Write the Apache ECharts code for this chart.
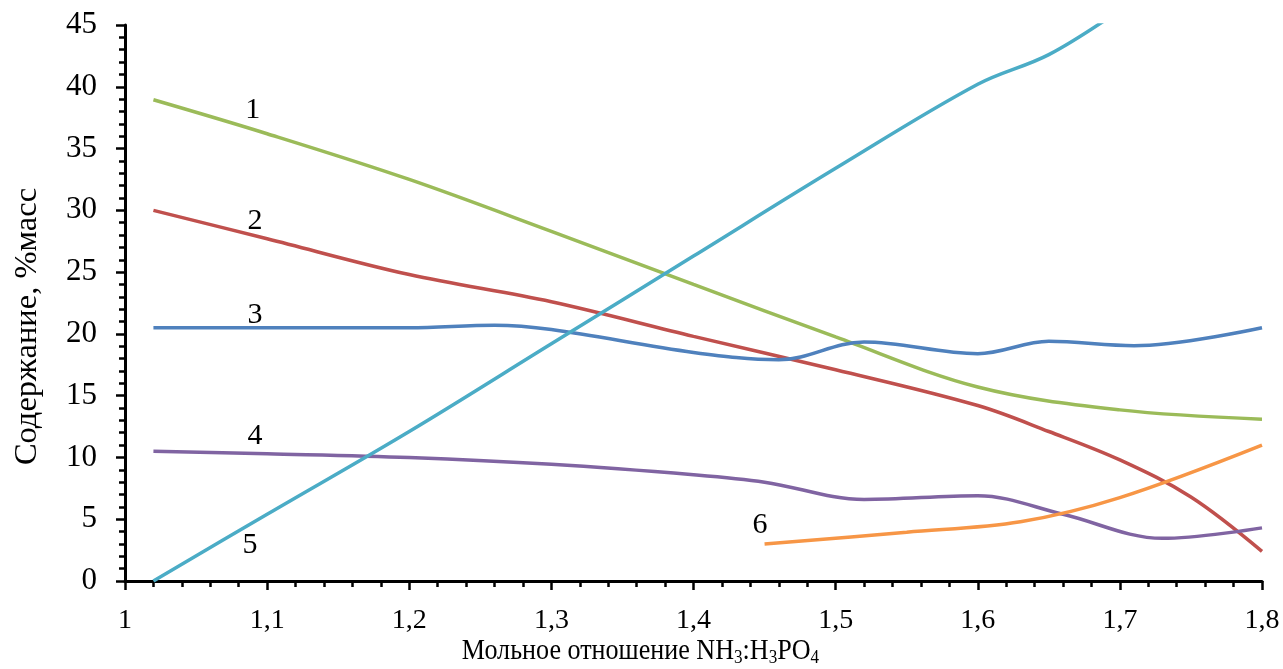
<!DOCTYPE html>
<html>
<head>
<meta charset="utf-8">
<script src="https://cdn.jsdelivr.net/npm/echarts@6/dist/echarts.min.js"></script>
<style>
  html, body { margin: 0; padding: 0; background: #ffffff; }
  #chart { width: 1283px; height: 669px; }
</style>
</head>
<body>
<div id="chart"></div>
<script>
// Molar ratio NH3:H3PO4 (x) vs content, % mass (y)
const ratio1 = [1.02, 1.1, 1.2, 1.3, 1.4, 1.5, 1.6, 1.7, 1.8];
const curve1 = [38.95, 36.2, 32.5, 28.3, 24.0, 19.75, 15.7, 13.85, 13.1];

const ratio2 = [1.02, 1.1, 1.2, 1.3, 1.4, 1.5, 1.6, 1.65, 1.7, 1.75, 1.8];
const curve2 = [30.0, 27.7, 24.8, 22.6, 19.8, 17.1, 14.2, 12.1, 9.8, 6.8, 2.4];

const ratio3 = [1.02, 1.1, 1.2, 1.26, 1.3, 1.4, 1.46, 1.52, 1.6, 1.65, 1.71, 1.8];
const curve3 = [20.5, 20.5, 20.5, 20.7, 20.35, 18.5, 17.9, 19.35, 18.4, 19.4, 19.05, 20.5];

const ratio4 = [1.02, 1.1, 1.2, 1.3, 1.4, 1.45, 1.52, 1.6, 1.66, 1.73, 1.8];
const curve4 = [10.5, 10.3, 10.0, 9.45, 8.6, 8.0, 6.6, 6.9, 5.4, 3.45, 4.3];

const ratio5 = [1.02, 1.1, 1.2, 1.3, 1.4, 1.5, 1.6, 1.65, 1.7];
const curve5 = [0, 5.4, 12.1, 19.2, 26.3, 33.4, 40.2, 42.6, 46.2];

const ratio6 = [1.45, 1.55, 1.63, 1.7, 1.8];
const curve6 = [3.0, 3.95, 4.8, 6.75, 11.0];

// Curve numbers and where they sit (x, y in data units)
const curveNames = ['1', '2', '3', '4', '5', '6'];
const namePosX = [1.0898, 1.0915, 1.0915, 1.0915, 1.088, 1.4468];
const namePosY = [38.1, 29.1, 21.5, 11.7, 2.9, 4.5];

const colors = ['#9BBB59', '#C0504D', '#4F81BD', '#8064A2', '#4BACC6', '#F79646'];

const xAxisMin = 1, xAxisMax = 1.8, xStep = 0.1;
const yAxisMin = 0, yAxisMax = 45, yStep = 5;

const xTitle = '{a|Мольное отношение NH}{s|3}{a|:H}{s|3}{a|PO}{s|4}';
const yTitle = 'Содержание, %масс';

const serif = 'Liberation Serif';

const ratios = [ratio1, ratio2, ratio3, ratio4, ratio5, ratio6];
const curves = [curve1, curve2, curve3, curve4, curve5, curve6];

function zip(xs, ys) { return xs.map((x, i) => [x, ys[i]]); }
function commaNum(v) { return String(Number(v.toFixed(2))).replace('.', ','); }

const series = curves.map((c, i) => ({
  type: 'line',
  data: zip(ratios[i], c),
  smooth: 0.35,
  showSymbol: false,
  symbol: 'none',
  clip: true,
  lineStyle: { color: colors[i], width: 3.5 },
  itemStyle: { color: colors[i] },
  z: 2 + i,
  markPoint: {
    symbol: 'circle',
    symbolSize: 0,
    silent: true,
    label: {
      show: true,
      position: 'inside',
      formatter: curveNames[i],
      color: '#000',
      fontSize: 30,
      fontFamily: serif
    },
    data: [{ coord: [namePosX[i], namePosY[i]] }]
  }
}));

const axisCommon = {
  type: 'value',
  axisLine: { show: true, onZero: false, lineStyle: { color: '#000', width: 3 } },
  axisTick: { show: true, inside: false, length: 9, lineStyle: { color: '#000', width: 2.5 } },
  minorTick: { show: true, splitNumber: 5, length: 6, lineStyle: { color: '#000', width: 2.5 } },
  splitLine: { show: false },
  minorSplitLine: { show: false }
};

const chart = echarts.init(document.getElementById('chart'), null, { renderer: 'canvas' });
chart.setOption({
  animation: false,
  backgroundColor: '#ffffff',
  grid: { left: 125, right: 21, top: 25, bottom: 88, containLabel: false, outerBoundsMode: 'none' },
  xAxis: Object.assign({}, axisCommon, {
    min: xAxisMin, max: xAxisMax, interval: xStep,
    axisLabel: { color: '#000', fontSize: 28, fontFamily: serif, margin: 26, formatter: commaNum }
  }),
  yAxis: Object.assign({}, axisCommon, {
    min: yAxisMin, max: yAxisMax, interval: yStep,
    axisLabel: { color: '#000', fontSize: 31, fontFamily: serif, margin: 28, formatter: commaNum }
  }),
  graphic: [
    {
      type: 'text',
      x: 640.5, y: 651,
      scaleX: 0.9,
      style: {
        text: xTitle,
        align: 'center',
        verticalAlign: 'middle',
        rich: {
          a: { fontSize: 29, fontFamily: serif, fill: '#000', lineHeight: 34 },
          s: { fontSize: 19, fontFamily: serif, fill: '#000', lineHeight: 14, verticalAlign: 'bottom' }
        }
      }
    },
    {
      type: 'text',
      x: 27, y: 326.5,
      rotation: Math.PI / 2,
      style: {
        text: yTitle,
        align: 'center',
        verticalAlign: 'middle',
        fontSize: 32.5,
        fontFamily: serif,
        fill: '#000'
      }
    }
  ],
  series: series
});
</script>
</body>
</html>
